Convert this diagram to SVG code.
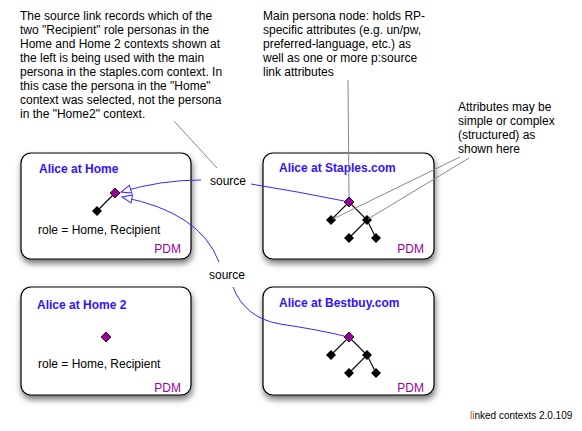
<svg xmlns="http://www.w3.org/2000/svg" width="582" height="431" viewBox="0 0 582 431">
<defs>
<filter id="sh" x="-20%" y="-20%" width="140%" height="150%">
<feDropShadow dx="1" dy="4" stdDeviation="3" flood-color="#000" flood-opacity="0.55"/>
</filter>
<marker id="open" viewBox="0 0 12 10" refX="11" refY="5" markerWidth="12" markerHeight="10" markerUnits="userSpaceOnUse" orient="auto">
<path d="M1,1 L11,5 L1,9 Z" fill="#fff" stroke="#4422ff" stroke-width="1"/>
</marker>
<path id="dia" d="M0,-5 L5,0 L0,5 L-5,0 Z"/>
</defs>
<style>
text{font-family:"Liberation Sans",Arial,sans-serif;}
.box{fill:#fff;stroke:#000;stroke-width:1.2;filter:url(#sh);}
.title{font-size:12px;font-weight:bold;fill:#3311ff;}
.body{font-size:12px;fill:#000;}
.pdm{font-size:12px;fill:#990099;}
.note{font-size:12px;fill:#000;}
.tree{stroke:#000;stroke-width:1.1;fill:none;}
.blk{fill:#000;}
.pur{fill:#990099;stroke:#000;stroke-width:0.8;}
.conn{fill:none;stroke:#4422ff;stroke-width:1;}
.ann{fill:none;stroke:#888;stroke-width:1;}
</style>

<g id="notes">
<text class="note" x="20" y="20">The source link records which of the</text>
<text class="note" x="20" y="34">two "Recipient" role personas in the</text>
<text class="note" x="20" y="48">Home and Home 2 contexts shown at</text>
<text class="note" x="20" y="62">the left is being used with the main</text>
<text class="note" x="20" y="76">persona in the staples.com context. In</text>
<text class="note" x="20" y="90">this case the persona in the "Home"</text>
<text class="note" x="20" y="104">context was selected, not the persona</text>
<text class="note" x="20" y="118">in the "Home2" context.</text>

<text class="note" x="263" y="20">Main persona node: holds RP-</text>
<text class="note" x="263" y="34">specific attributes (e.g. un/pw,</text>
<text class="note" x="263" y="48">preferred-language, etc.) as</text>
<text class="note" x="263" y="62">well as one or more p:source</text>
<text class="note" x="263" y="76">link attributes</text>

<text class="note" x="458" y="111">Attributes may be</text>
<text class="note" x="458" y="125">simple or complex</text>
<text class="note" x="458" y="139">(structured) as</text>
<text class="note" x="458" y="153">shown here</text>

<text x="470" y="419" style="font-size:10px;fill:#000"><tspan fill="#a0521e">li</tspan>nked contexts 2.0.109</text>
</g>

<g id="home">
<rect class="box" x="21" y="153" width="170" height="106" rx="10"/>
<text class="title" x="39" y="173">Alice at Home</text>
<line class="tree" x1="115" y1="193" x2="97" y2="211"/>
<use href="#dia" x="97" y="211" class="blk"/>
<use href="#dia" x="115" y="193" class="pur"/>
<text class="body" x="38" y="234">role = Home, Recipient</text>
<text class="pdm" x="181" y="253" text-anchor="end">PDM</text>
</g>

<g id="staples">
<rect class="box" x="263" y="153" width="171" height="106" rx="10"/>
<text class="title" x="279" y="172">Alice at Staples.com</text>
<polyline class="tree" points="331,220 349,202 367,220 349,238"/>
<line class="tree" x1="367" y1="220" x2="376" y2="238"/>
<use href="#dia" x="331" y="220" class="blk"/>
<use href="#dia" x="367" y="220" class="blk"/>
<use href="#dia" x="349" y="238" class="blk"/>
<use href="#dia" x="376" y="238" class="blk"/>
<use href="#dia" x="349" y="202" class="pur"/>
<text class="pdm" x="424" y="253" text-anchor="end">PDM</text>
</g>

<g id="home2">
<rect class="box" x="21" y="287" width="170" height="108" rx="10"/>
<text class="title" x="37" y="309">Alice at Home 2</text>
<use href="#dia" x="106" y="337" class="pur"/>
<text class="body" x="38" y="368">role = Home, Recipient</text>
<text class="pdm" x="181" y="392" text-anchor="end">PDM</text>
</g>

<g id="bestbuy">
<rect class="box" x="263" y="287" width="171" height="108" rx="10"/>
<text class="title" x="279" y="307">Alice at Bestbuy.com</text>
<polyline class="tree" points="331,355 349,337 367,355 349,373"/>
<line class="tree" x1="367" y1="355" x2="376" y2="373"/>
<use href="#dia" x="331" y="355" class="blk"/>
<use href="#dia" x="367" y="355" class="blk"/>
<use href="#dia" x="349" y="373" class="blk"/>
<use href="#dia" x="376" y="373" class="blk"/>
<use href="#dia" x="349" y="337" class="pur"/>
<text class="pdm" x="424" y="392" text-anchor="end">PDM</text>
</g>

<g id="connectors">
<line class="ann" x1="174" y1="121" x2="217" y2="168"/>
<line class="ann" x1="348" y1="80" x2="349" y2="197"/>
<line class="ann" x1="460" y1="157" x2="333" y2="219"/>
<line class="ann" x1="469" y1="158" x2="368" y2="219"/>

<path class="conn" d="M251,184 Q300,192 344,201"/>
<path class="conn" d="M201,180 Q160,180 121,192" marker-end="url(#open)"/>
<path class="conn" d="M219,262 Q200,212 122,197" marker-end="url(#open)"/>
<path class="conn" d="M233,287 Q245,318 280,324 Q320,330 344,336"/>
<text class="body" x="210" y="185">source</text>
<text class="body" x="209" y="279">source</text>
</g>
</svg>
